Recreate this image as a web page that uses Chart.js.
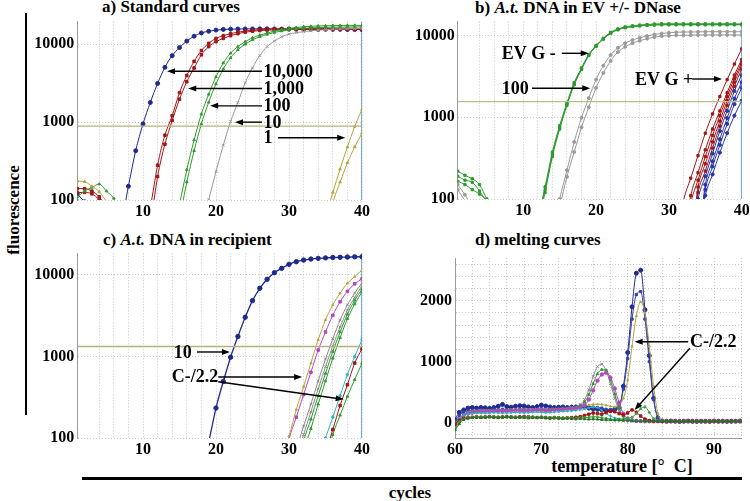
<!DOCTYPE html>
<html><head><meta charset="utf-8">
<script src="https://cdn.jsdelivr.net/npm/chart.js@4.4.1/dist/chart.umd.min.js"></script>
<style>
body{margin:0;width:750px;height:501px;position:relative;background:#fff;overflow:hidden;font-family:'Liberation Serif','Times New Roman',serif;}
.t{position:absolute;font-weight:bold;font-size:17px;line-height:17px;white-space:pre;color:#000}
canvas{position:absolute}
.bar{position:absolute;background:#000}
</style></head><body>
<div class="t" style="left:102px;top:-2px">a) Standard curves</div>
<div class="t" style="left:475px;top:-1px">b) <i>A.t.</i> DNA in EV +/- DNase</div>
<div class="t" style="left:103px;top:231px">c) <i>A.t.</i> DNA in recipient</div>
<div class="t" style="left:475px;top:231px">d) melting curves</div>
<div class="t" style="left:13px;top:210px;transform:translate(-50%,-50%) rotate(-90deg)">fluorescence</div>
<div class="t" style="left:410px;top:492px;transform:translate(-50%,-50%)">cycles</div>
<div class="t" style="left:622px;top:466px;transform:translate(-50%,-50%);font-size:18px">temperature [°  C]</div>
<div class="bar" style="left:25px;top:13px;width:2px;height:402px"></div>
<div class="bar" style="left:82px;top:477px;width:660px;height:2.5px"></div>
<canvas id="ca" width="375" height="230" style="left:0;top:0"></canvas>
<canvas id="cb" width="380" height="229" style="left:375px;top:0"></canvas>
<canvas id="cc" width="375" height="233" style="left:0;top:235px"></canvas>
<canvas id="cd" width="380" height="233" style="left:375px;top:235px"></canvas>
<script>
// ---------- shared axes data ----------
const cycles = [1,2,3,4,5,6,7,8,9,10,11,12,13,14,15,16,17,18,19,20,21,22,23,24,25,26,27,28,29,30,31,32,33,34,35,36,37,38,39,40];
const cycleLabels = [10,20,30,40];
const logTicks = [100,1000,10000];
const endCycle = 40;

// ---------- panel a: standard curves ----------
const aBlue = [120,95,80,65,50,40,50,150,430,950,1790,3140,5060,7150,9060,11000,12700,14000,14700,15200,15500,15650,15700,15750,15750,15800,15800,15750,15700,15700,15650,15650,15600,15600,15600,15550,15550,15500,15500,15400];
const aRed1 = [140,140,130,110,80,55,40,30,25,30,80,280,680,1210,2390,3970,6030,8300,10300,11900,12900,13700,14300,14800,15100,15400,15600,15700,15800,15900,15950,16000,16000,16000,16000,16000,16000,16000,16000,15950];
const aRed2 = [125,125,120,100,75,50,38,30,25,25,50,200,520,1050,1970,3300,4960,7320,9330,10800,11900,12900,13700,14300,14700,15000,15200,15300,15400,15450,15500,15500,15500,15500,15500,15500,15500,15500,15500,15500];
const aGreen1 = [110,130,145,160,130,105,70,50,40,35,30,30,35,45,90,245,590,1270,2280,3820,5750,7690,9330,10800,12100,13100,13900,14800,15400,16000,16400,16800,17000,17200,17300,17400,17400,17500,17500,17500];
const aGreen2 = [100,95,85,70,55,40,35,30,30,30,30,30,30,35,60,170,430,950,1800,3100,4800,6700,8500,10000,11400,12500,13400,14200,14800,15300,15700,16000,16200,16400,16500,16600,16600,16700,16700,16700];
const aGray = [90,80,60,45,35,30,30,30,30,30,30,30,30,30,30,30,30,45,100,233,506,1020,1790,3210,4960,7170,9330,11000,12480,13500,14100,14550,14900,15200,15400,15600,15700,15800,15900,16000];
const aOlive1 = [175,172,150,128,95,65,45,35,30,30,30,30,30,30,30,30,30,30,30,30,30,30,30,30,30,30,30,30,30,30,30,30,30,30,60,125,250,480,880,1450];
const aOlive2 = [30,30,30,30,30,30,30,30,30,30,30,30,30,30,30,30,30,30,30,30,30,30,30,30,30,30,30,30,30,30,30,30,30,30,30,90,170,300,480,720];
const aThreshold = 890;

// ---------- panel b: EV +/- DNase ----------
const bGreen1 = [220,195,177,150,100,70,50,40,35,35,40,60,141,376,790,1510,2660,4030,5890,7600,9290,11000,12100,12800,13200,13500,13700,13900,14000,14000,14000,14000,14000,14000,14000,14000,14000,14000,14000,13900];
const bGreen2 = [190,170,160,125,90,60,45,38,35,35,38,55,130,350,750,1450,2580,3950,5800,7500,9150,10800,11900,12600,13000,13300,13500,13650,13700,13700,13700,13700,13700,13700,13700,13700,13700,13700,13700,13700];
const bGreen3 = [165,150,130,115,95,65,45,38,35,35,38,50,120,330,720,1400,2500,3850,5700,7400,9100,10700,11800,12500,12900,13200,13400,13500,13600,13600,13600,13600,13600,13600,13600,13600,13600,13600,13600,13600];
const bGray1 = [150,113,80,60,45,40,35,35,35,35,35,35,35,40,100,225,500,988,1720,2900,4300,5800,7100,8100,8850,9450,9900,10350,10650,10850,11000,11100,11100,11150,11200,11200,11200,11200,11200,11200];
const bGray2 = [130,95,70,55,45,40,35,35,35,35,35,35,35,38,80,187,376,755,1330,2300,3500,4900,6300,7300,8100,8700,9200,9600,9900,10000,10100,10100,10150,10200,10200,10200,10200,10200,10200,10200];
const bRed1 = [30,30,30,30,30,30,30,30,30,30,30,30,30,30,30,30,30,30,30,30,30,30,30,30,30,30,30,30,30,30,30,95,180,340,640,1100,1800,2900,4500,6900];
const bRed2 = [30,30,30,30,30,30,30,30,30,30,30,30,30,30,30,30,30,30,30,30,30,30,30,30,30,30,30,30,30,30,30,30,110,210,400,720,1200,2000,3300,5100];
const bRed3 = [30,30,30,30,30,30,30,30,30,30,30,30,30,30,30,30,30,30,30,30,30,30,30,30,30,30,30,30,30,30,30,30,90,170,330,600,1050,1800,3000,4700];
const bRed4 = [30,30,30,30,30,30,30,30,30,30,30,30,30,30,30,30,30,30,30,30,30,30,30,30,30,30,30,30,30,30,30,30,30,140,270,500,900,1600,2700,4400];
const bRed5 = [30,30,30,30,30,30,30,30,30,30,30,30,30,30,30,30,30,30,30,30,30,30,30,30,30,30,30,30,30,30,30,30,30,120,220,420,780,1400,2400,3900];
const bBlue1 = [30,30,30,30,30,30,30,30,30,30,30,30,30,30,30,30,30,30,30,30,30,30,30,30,30,30,30,30,30,30,30,30,30,100,190,360,680,1200,2100,3300];
const bBlue2 = [30,30,30,30,30,30,30,30,30,30,30,30,30,30,30,30,30,30,30,30,30,30,30,30,30,30,30,30,30,30,30,30,30,30,150,290,540,980,1700,2700];
const bBlue3 = [30,30,30,30,30,30,30,30,30,30,30,30,30,30,30,30,30,30,30,30,30,30,30,30,30,30,30,30,30,30,30,30,30,30,130,250,460,830,1450,2300];
const bBlue4 = [30,30,30,30,30,30,30,30,30,30,30,30,30,30,30,30,30,30,30,30,30,30,30,30,30,30,30,30,30,30,30,30,30,30,110,200,370,640,1050,1600];
const bThreshold = 1560;

// ---------- panel c: recipient ----------
const cBlue = [30,30,30,30,30,30,30,30,30,30,30,30,30,30,30,30,30,40,90,233,494,981,1760,3030,4850,6870,8860,10670,12080,13520,14560,15250,15700,16000,16200,16400,16500,16600,16700,16750];
const cOlive = [30,30,30,30,30,30,30,30,30,30,30,30,30,30,30,30,30,30,30,30,30,30,30,30,30,30,30,30,60,105,224,428,830,1600,2820,4300,5970,7910,9530,11500];
const cMagenta = [30,30,30,30,30,30,30,30,30,30,30,30,30,30,30,30,30,30,30,30,30,30,30,30,30,30,30,30,30,95,180,340,640,1200,2000,3200,4700,6300,7800,9000];
const cGray1 = [30,30,30,30,30,30,30,30,30,30,30,30,30,30,30,30,30,30,30,30,30,30,30,30,30,30,30,30,30,30,70,140,260,500,930,1650,2800,4300,6000,8000];
const cGray2 = [30,30,30,30,30,30,30,30,30,30,30,30,30,30,30,30,30,30,30,30,30,30,30,30,30,30,30,30,30,30,55,110,210,400,750,1350,2300,3700,5300,7400];
const cGreen1 = [30,30,30,30,30,30,30,30,30,30,30,30,30,30,30,30,30,30,30,30,30,30,30,30,30,30,30,30,30,30,30,90,170,330,620,1150,2000,3300,4900,6700];
const cGreen2 = [30,30,30,30,30,30,30,30,30,30,30,30,30,30,30,30,30,30,30,30,30,30,30,30,30,30,30,30,30,30,30,70,130,260,500,950,1700,2900,4400,6200];
const cCyan = [30,30,30,30,30,30,30,30,30,30,30,30,30,30,30,30,30,30,30,30,30,30,30,30,30,30,30,30,30,30,30,30,30,55,100,180,330,600,1000,1600];
const cRed = [30,30,30,30,30,30,30,30,30,30,30,30,30,30,30,30,30,30,30,30,30,30,30,30,30,30,30,30,30,30,30,30,30,30,65,127,250,450,830,1240];
const cGreenLow = [30,30,30,30,30,30,30,30,30,30,30,30,30,30,30,30,30,30,30,30,30,30,30,30,30,30,30,30,30,30,30,30,30,30,50,110,190,323,520,830];
const cThreshold = 1326;

// ---------- panel d: melting curves ----------
const temps = [60,60.5,61,61.5,62,62.5,63,63.5,64,64.5,65,65.5,66,66.5,67,67.5,68,68.5,69,69.5,70,70.5,71,71.5,72,72.5,73,73.5,74,74.5,75,75.5,76,76.5,77,77.5,78,78.5,79,79.5,80,80.5,81,81.5,82,82.5,83,83.5,84,84.5,85,85.5,86,86.5,87,87.5,88,88.5,89,89.5,90,90.5,91,91.5,92,92.5,93,93.5,94];
const tempLabels = [60,70,80,90];
const dLabels = [0,1000,2000];
const dBlue1 = [50,170,210,240,250,240,250,245,235,250, 270,300,265,255,270,280,275,260,250,265, 290,275,260,250,255,260,250,255,260,265, 255,240,230,220,210,195,200,220,250,600, 1150,1900,2450,2500,1850,1100,400,80,30,25, 28,25,22,25,28,25,22,25,25,22, 28,25,25,22,25,25,28,25,25];
const dBlue2 = [20,120,170,190,200,205,210,200,205,215, 210,220,215,210,220,225,220,215,210,220, 230,225,220,215,220,225,230,235,240,250, 255,260,255,250,240,220,215,240,280,550, 1050,1700,2100,2150,1700,1000,380,80,30,25, 25,22,25,25,22,25,25,22,25,25, 22,25,25,22,25,25,22,25,25];
const dOlive = [-60,40,120,160,180,190,195,200,195,200, 205,200,205,210,205,210,215,210,205,210, 215,220,215,220,225,230,235,240,250,260, 275,290,300,305,300,285,270,260,300,400, 700,1250,1750,1980,1800,1250,600,150,40,28, 25,25,22,25,25,22,25,25,22,25, 25,22,25,25,22,25,25,22,25];
const dGray = [-40,60,130,170,190,195,200,205,200,205, 210,205,210,215,220,215,210,215,220,225, 220,215,225,230,225,230,240,250,260,300, 380,540,760,920,960,850,640,400,200,90, 50,35,30,28,25,25,22,25,25,22, 25,25,22,25,25,22,25,25,22,25, 25,22,25,25,22,25,25,22,25];
const dGreen = [-80,20,100,150,175,185,190,195,190,195, 200,195,200,205,200,205,210,205,200,205, 210,205,210,215,220,225,230,235,250,280, 340,460,640,800,870,860,700,470,250,110, 55,35,30,28,25,25,22,25,25,22, 25,25,22,25,25,22,25,25,22,25, 25,22,25,25,22,25,25,22,25];
const dMagenta = [-30,60,120,150,165,175,180,185,180,185, 190,185,190,195,200,195,190,195,200,205, 200,195,200,205,210,215,220,225,235,250, 290,380,530,690,790,820,740,560,330,150, 70,40,30,28,25,25,22,25,25,22, 25,25,22,25,25,22,25,25,22,25, 25,22,25,25,22,25,25,22,25];
const dCyan = [0,70,120,140,150,155,160,155,160,165, 160,155,160,165,170,165,160,165,170,175, 170,165,170,175,180,185,190,195,205,215, 230,245,255,250,200,150,110,80,65,55, 45,40,35,30,28,25,25,22,25,25, 22,25,25,22,25,25,22,25,25,22, 25,25,22,25,25,22,25,25,22];
const dRedLow = [-20,40,70,85,90,95,90,95,100,95, 90,95,100,95,90,95,100,95,90,85, 90,85,80,85,80,75,80,85,90,100, 120,140,160,150,140,170,185,180,150,130, 160,210,170,110,60,35,28,25,25,22, 25,25,22,25,25,22,25,25,22,25, 25,22,25,25,22,25,25,22,25];
const dGreenLow = [-100,10,60,80,90,95,100,95,95,100, 95,90,95,100,95,90,95,100,95,90, 95,90,85,90,85,80,85,80,75,80, 85,90,100,95,85,70,60,55,55,60, 70,90,150,230,260,170,70,35,28,25, 25,22,25,25,22,25,25,22,25,25, 22,25,25,22,25,25,22,25,25];
const dDarkGreen = [-120,-20,50,70,80,85,80,85,90,85, 80,85,90,85,80,85,80,75,80,85, 80,75,70,75,70,65,70,65,60,65, 60,55,60,55,50,45,45,40,40,35, 35,30,28,25,25,22,25,25,22,25, 25,22,25,25,22,25,25,22,25,25, 22,25,25,22,25,25,22,25,25];

// ---------- annotations (data coordinates) ----------
const aNotes = [
  {text:'10,000', at:[26.5,4500], arrows:[[26.3,4500,13.3,4500]]},
  {text:'1,000', at:[26.5,2700], arrows:[[26.3,2700,16.2,2700]]},
  {text:'100', at:[26.5,1620], arrows:[[26.3,1620,19.2,1620]]},
  {text:'10', at:[26.5,1000], arrows:[[26.3,1000,22.6,1000]]},
  {text:'1', at:[26.5,630], arrows:[[28.5,630,37.7,630]]}
];
const bNotes = [
  {text:'EV G -', at:[7.04,6087], arrows:[[15.3,6087,19.0,6087]]},
  {text:'100', at:[7.04,2269], arrows:[[11.2,2269,19.2,2269]]},
  {text:'EV G +', at:[25.35,2949], arrows:[[33.2,2949,37.3,2949]]}
];
const cNotes = [
  {text:'10', at:[14.2,1136], arrows:[[17.4,1136,21.9,1136]]},
  {text:'C-/2.2', at:[13.95,576], arrows:[[20.3,560,31.8,560],[20.3,490,37.5,298]]}
];
const dNotes = [
  {text:'C-/2.2', at:[87.2,1328], arrows:[[87.0,1328,80.8,1328],[87.2,1220,80.8,210]]}
];

// ---------- drawing ----------
const SERIF = "'Liberation Serif','Times New Roman',serif";
Chart.defaults.font.family = SERIF;
Chart.defaults.animation = false;

const notesPlugin = {
  id: 'notes',
  afterDatasetsDraw(chart, args, opts) {
    const items = opts.items || [];
    const {ctx} = chart; const x = chart.scales.x, y = chart.scales.y;
    ctx.save();
    ctx.font = 'bold 18px ' + SERIF;
    ctx.fillStyle = '#000'; ctx.strokeStyle = '#000'; ctx.lineWidth = 1.4;
    ctx.textBaseline = 'middle'; ctx.textAlign = 'left';
    for (const n of items) {
      ctx.fillText(n.text, x.getPixelForValue(n.at[0]), y.getPixelForValue(n.at[1]) + 1);
      for (const a of n.arrows) {
        const x0 = x.getPixelForValue(a[0]), y0 = y.getPixelForValue(a[1]);
        const x1 = x.getPixelForValue(a[2]), y1 = y.getPixelForValue(a[3]);
        const ang = Math.atan2(y1 - y0, x1 - x0), L = 8, W = 3;
        ctx.beginPath(); ctx.moveTo(x0, y0);
        ctx.lineTo(x1 - Math.cos(ang) * L * 0.8, y1 - Math.sin(ang) * L * 0.8); ctx.stroke();
        ctx.beginPath(); ctx.moveTo(x1, y1);
        ctx.lineTo(x1 - Math.cos(ang) * L - Math.sin(ang) * W, y1 - Math.sin(ang) * L + Math.cos(ang) * W);
        ctx.lineTo(x1 - Math.cos(ang) * L + Math.sin(ang) * W, y1 - Math.sin(ang) * L - Math.cos(ang) * W);
        ctx.closePath(); ctx.fill();
      }
    }
    ctx.restore();
  }
};

const COL = {
  blue:'#1f2a8c', red:'#a31515', green:'#2f9a2f', gray:'#8c8c8c', olive:'#b3a53a',
  magenta:'#b545c0', cyan:'#2cb3b8', dkgreen:'#2b6e2b', thr:'#b5b17e', end:'#4f95de'
};

function ser(xs, vals, color, style, r, lw) {
  return {
    data: vals.map((v, i) => ({x: xs[i], y: v})),
    borderColor: color, backgroundColor: color, borderWidth: lw || 1,
    pointRadius: r === undefined ? 1.8 : r, pointStyle: style || 'circle', pointBorderWidth: 1,
    cubicInterpolationMode: 'monotone', fill: false
  };
}
function hline(value, color) {
  return {data: cycles.map(c => ({x: c, y: value})), borderColor: color, borderWidth: 1.3, pointRadius: 0, fill: false};
}
function vline(xv, lo, hi, color) {
  return {data: [{x: xv, y: lo}, {x: xv, y: hi}], borderColor: color, borderWidth: 1.6, pointRadius: 0, fill: false};
}
const tickFont = {family: SERIF, size: 16, weight: 'bold'};

function qpcrChart(id, datasets, notes, ymin, ymax, yWidth, padTop, padRight) {
  return new Chart(document.getElementById(id), {
    type: 'line',
    data: {datasets},
    plugins: [notesPlugin],
    options: {
      responsive: false, animation: false, events: [],
      layout: {padding: {top: padTop, right: padRight, left: 0, bottom: 0}},
      plugins: {legend: {display: false}, tooltip: {enabled: false}, notes: {items: notes}},
      scales: {
        x: {type: 'linear', min: 1, max: 40,
            ticks: {stepSize: 2, autoSkip: false, maxRotation: 0, padding: 2, color: '#000', font: tickFont,
                    callback: v => cycleLabels.includes(v) ? String(v) : ''},
            grid: {color: '#c9c9c9', lineWidth: 1, drawTicks: false},
            border: {display: false, dash: [1, 2]},
            afterFit: s => { s.height = 30; }},
        y: {type: 'logarithmic', min: ymin, max: ymax,
            afterBuildTicks: s => { s.ticks = logTicks.map(v => ({value: v})); },
            ticks: {autoSkip: false, padding: 3, color: '#000', font: tickFont, callback: v => String(v)},
            grid: {color: '#c9c9c9', lineWidth: 1, drawTicks: false},
            border: {display: true, color: '#9a9a9a', width: 1, dash: [1, 2]},
            afterFit: s => { s.width = yWidth; }}
      }
    }
  });
}

// panel a
qpcrChart('ca', [
  hline(aThreshold, COL.thr),
  ser(cycles, aOlive1, COL.olive, 'triangle', 1.5),
  ser(cycles, aOlive2, COL.olive, 'triangle', 1.5),
  ser(cycles, aGray, '#9a9a9a', 'crossRot', 2),
  ser(cycles, aGreen2, COL.green, 'triangle', 1.5),
  ser(cycles, aGreen1, COL.green, 'triangle', 1.5),
  ser(cycles, aRed2, COL.red, 'rect', 1.8),
  ser(cycles, aRed1, COL.red, 'rect', 1.8),
  ser(cycles, aBlue, COL.blue, 'circle', 2),
  vline(endCycle, 1, 1e6, COL.end)
], aNotes, 100, 19500, 77.3, 21.7, 13);

// panel b
qpcrChart('cb', [
  hline(bThreshold, '#b9bf88'),
  ser(cycles, bGray1, '#9a9a9a', 'circle', 1.5),
  ser(cycles, bGray2, '#9a9a9a', 'circle', 1.5),
  ser(cycles, bGreen3, COL.green, 'rect', 1.6),
  ser(cycles, bGreen2, COL.green, 'rect', 1.6),
  ser(cycles, bGreen1, COL.green, 'rect', 1.6),
  ser(cycles, bBlue4, '#2a35a8', 'circle', 1.6),
  ser(cycles, bBlue3, '#2a35a8', 'circle', 1.6),
  ser(cycles, bBlue2, '#2a35a8', 'circle', 1.6),
  ser(cycles, bBlue1, '#2a35a8', 'circle', 1.6),
  ser(cycles, bRed5, COL.red, 'rect', 1.6),
  ser(cycles, bRed4, COL.red, 'rect', 1.6),
  ser(cycles, bRed3, COL.red, 'rect', 1.6),
  ser(cycles, bRed2, COL.red, 'rect', 1.6),
  ser(cycles, bRed1, COL.red, 'rect', 1.6),
  vline(endCycle, 1, 1e6, COL.end)
], bNotes, 100, 14840, 82.7, 21.7, 13.3);

// panel c
qpcrChart('cc', [
  hline(cThreshold, COL.thr),
  ser(cycles, cOlive, COL.olive, 'triangle', 1.3),
  ser(cycles, cMagenta, COL.magenta, 'rect', 1.8),
  ser(cycles, cGray1, '#8c8c8c', 'crossRot', 2),
  ser(cycles, cGray2, '#8c8c8c', 'crossRot', 2),
  ser(cycles, cGreen1, COL.green, 'triangle', 1.5),
  ser(cycles, cGreen2, COL.green, 'triangle', 1.5),
  ser(cycles, cCyan, COL.cyan, 'circle', 1.2),
  ser(cycles, cRed, COL.red, 'rect', 1.8),
  ser(cycles, cGreenLow, COL.green, 'triangle', 1.5),
  ser(cycles, cBlue, COL.blue, 'circle', 2.2, 1.3),
  vline(endCycle, 1, 1e6, COL.end)
], cNotes, 100, 18460, 77.3, 18.3, 13);

// panel d
const dGridStep = 200;
new Chart(document.getElementById('cd'), {
  type: 'line',
  data: {datasets: [
    ser(temps, dDarkGreen, COL.dkgreen, 'triangle', 1.4),
    ser(temps, dGreenLow, '#3aa23a', 'triangle', 1.4),
    ser(temps, dRedLow, COL.red, 'rect', 1.7),
    ser(temps, dCyan, COL.cyan, 'circle', 0.8),
    ser(temps, dMagenta, COL.magenta, 'circle', 1.7),
    ser(temps, dGreen, COL.green, 'triangle', 1.5),
    ser(temps, dGray, '#8a8a8a', 'crossRot', 2),
    ser(temps, dOlive, COL.olive, 'triangle', 1.2),
    ser(temps, dBlue2, '#3442b0', 'rect', 1.6),
    ser(temps, dBlue1, COL.blue, 'circle', 2)
  ]},
  plugins: [notesPlugin],
  options: {
    responsive: false, animation: false, events: [],
    layout: {padding: {top: 23, right: 13.3, left: 0, bottom: 0}},
    plugins: {legend: {display: false}, tooltip: {enabled: false}, notes: {items: dNotes}},
    scales: {
      x: {type: 'linear', min: 60, max: 93.2,
          ticks: {stepSize: 2, autoSkip: false, maxRotation: 0, padding: 2, color: '#000', font: tickFont,
                  callback: v => tempLabels.includes(v) ? String(v) : ''},
          grid: {color: '#c9c9c9', drawTicks: false},
          border: {display: true, color: '#9a9a9a', dash: [1, 2]},
          afterFit: s => { s.height = 30; }},
      y: {type: 'linear', min: -250, max: 2700,
          afterBuildTicks: s => {
            const t = [];
            for (let v = Math.ceil(s.min / dGridStep) * dGridStep; v <= s.max; v += dGridStep) t.push({value: v});
            s.ticks = t;
          },
          ticks: {autoSkip: false, padding: 3, color: '#000', font: tickFont,
                  callback: v => dLabels.includes(v) ? String(v) : ''},
          grid: {color: '#c9c9c9', drawTicks: false},
          border: {display: true, color: '#9a9a9a', dash: [1, 2]},
          afterFit: s => { s.width = 80; }}
    }
  }
});
</script>
</body></html>
